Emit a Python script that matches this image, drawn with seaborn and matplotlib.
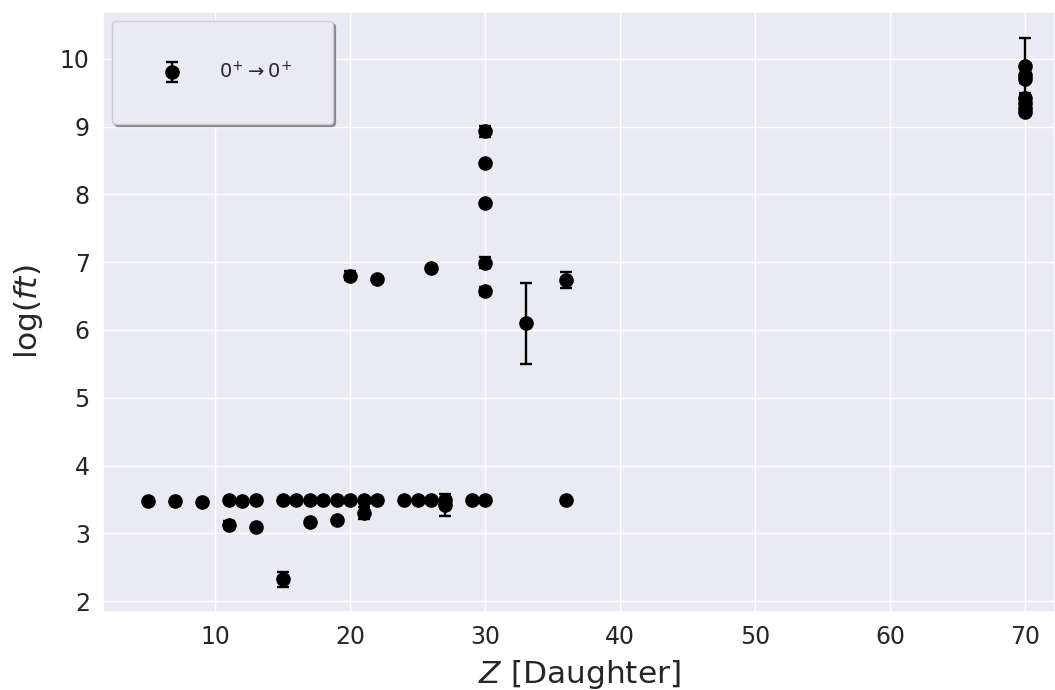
import matplotlib
matplotlib.use("Agg")
import matplotlib.pyplot as plt
import seaborn as sns
import numpy as np
import pandas as pd

# Data
z_daughter = [5, 7, 9, 11, 11, 12, 13, 13, 15, 15, 16, 17, 17, 18, 19, 19,
              20, 20, 21, 21, 22, 22, 24, 25, 26, 26, 27, 27, 29,
              30, 30, 30, 30, 30, 30, 33, 36, 36,
              70, 70, 70, 70, 70, 70, 70]
log_ft = [3.48, 3.48, 3.46, 3.49, 3.13, 3.48, 3.49, 3.09, 3.49, 2.32, 3.49, 3.49, 3.17, 3.49, 3.49, 3.19,
          3.49, 6.80, 3.49, 3.30, 3.49, 6.75, 3.49, 3.49, 3.49, 6.91, 3.49, 3.42, 3.49,
          3.49, 8.93, 8.47, 7.88, 6.99, 6.58, 6.10, 3.49, 6.74,
          9.90, 9.76, 9.70, 9.42, 9.35, 9.28, 9.22]
log_ft_err = [0, 0, 0, 0, 0.05, 0, 0, 0, 0, 0.11, 0, 0, 0, 0, 0, 0,
              0, 0.07, 0, 0.09, 0, 0, 0, 0, 0, 0, 0, 0.16, 0,
              0, 0.08, 0, 0, 0.08, 0.06, 0.60, 0, 0.12,
              0.40, 0, 0.05, 0.06, 0.06, 0, 0.05]
series_label = r"$0^{+} \rightarrow 0^{+}$"

df = pd.DataFrame({"Z": z_daughter, "logft": log_ft, "err": log_ft_err})

sns.set_theme(style="darkgrid")
plt.rcParams["font.family"] = ["DejaVu Sans"]

fig = plt.figure(figsize=(10.55, 6.9), dpi=100)
ax = fig.add_axes([103 / 1055, 1 - 612 / 690, 1 - 103 / 1055, (612 - 12) / 690])

sns.scatterplot(data=df, x="Z", y="logft", ax=ax, color="black", s=90,
                edgecolor="black", linewidth=0, legend=False, zorder=3)
ax.errorbar(df["Z"], df["logft"], yerr=df["err"], fmt="o", color="black",
            ecolor="black", markersize=9.5, elinewidth=1.7, capsize=4.5,
            capthick=1.7, label=series_label, zorder=3)

ax.set_xlim(1.7, 72.2)
ax.set_ylim(1.84, 10.69)
ax.set_xticks([10, 20, 30, 40, 50, 60, 70])
ax.set_yticks([2, 3, 4, 5, 6, 7, 8, 9, 10])
ax.tick_params(labelsize=17)
ax.set_xlabel(r"$Z$ [Daughter]", fontsize=22.5, labelpad=6)
ax.set_ylabel(r"log($ft$)", fontsize=22.5, labelpad=11)

leg = ax.legend(loc="upper left", fontsize=14, borderpad=2.1, handletextpad=1.4,
                shadow=True, fancybox=True, frameon=True, borderaxespad=0.45)
leg.get_frame().set_facecolor("#EAEAF2")
leg.get_frame().set_edgecolor("#CCCCCC")

fig.savefig("out.png", dpi=100)
